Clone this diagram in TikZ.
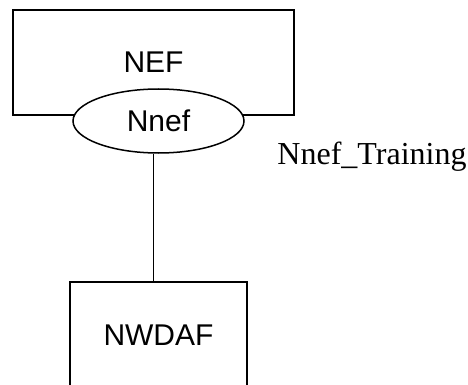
\documentclass[tikz,border=0pt]{standalone}
\usepackage{fontspec}
\setmainfont{Liberation Serif}
\setsansfont{Liberation Sans}
\usetikzlibrary{shapes.geometric}

\begin{document}
\begin{tikzpicture}[
    x=1pt, y=-1pt,
    nf/.style={draw, line width=1.5pt, inner sep=0pt, font=\sffamily\fontsize{30}{36}\selectfont},
    svc/.style={draw, ellipse, line width=1.5pt, fill=white, inner sep=0pt, minimum width=171pt, minimum height=64pt, font=\sffamily\fontsize{30}{36}\selectfont},
    link/.style={line width=1.5pt}
  ]
    \useasboundingbox (0,0) rectangle (468,385);

    \node[nf, minimum width=281pt, minimum height=105pt] (nef) at (153.5,62.5) {NEF};
    \node[svc] (nnef) at (158.5,121) {Nnef};
    \node[nf, minimum width=177pt, minimum height=106pt] (nwdaf) at (158.5,335) {NWDAF};

    \draw[link] (nnef.south -| nef.center) -- (nwdaf.north -| nef.center);

    \node[font=\fontsize{32}{38}\selectfont] (train) at (372,157) {Nnef\_Training};
  \end{tikzpicture}
\end{document}
